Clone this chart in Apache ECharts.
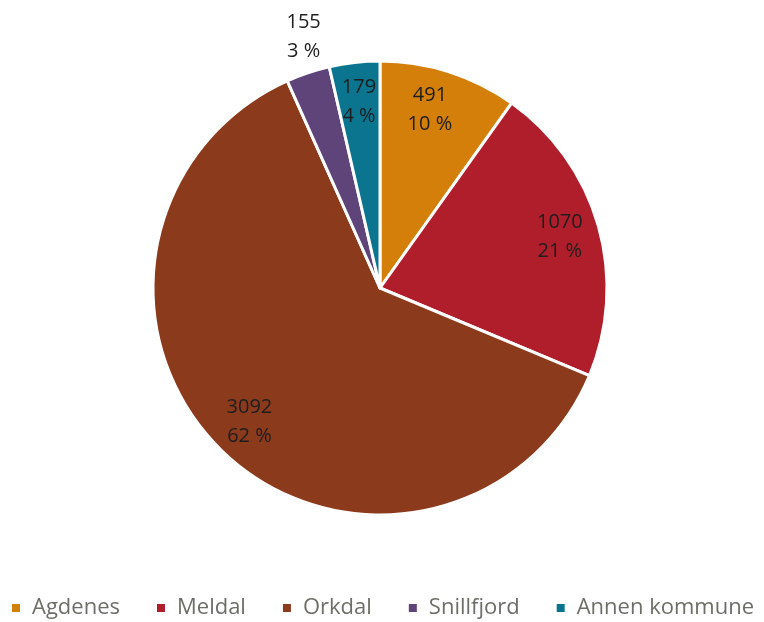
<!DOCTYPE html>
<html>
<head>
<meta charset="utf-8">
<script src="https://cdn.jsdelivr.net/npm/echarts@6/dist/echarts.min.js"></script>
<style>
  html, body { margin: 0; padding: 0; background: #fff; }
  #chart { width: 764px; height: 622px; }
</style>
</head>
<body>
<div id="chart"></div>
<script>
// kommuner og antall
const kommuner = ['Agdenes', 'Meldal', 'Orkdal', 'Snillfjord', 'Annen kommune'];
const antall = [491, 1070, 3092, 155, 179];
const farger = ['#d47f0a', '#b01e2b', '#8b3a1b', '#5f4479', '#0b7590'];

const pieData = kommuner.map((navn, i) => ({ name: navn, value: antall[i] }));

const chart = echarts.init(document.getElementById('chart'));

chart.setOption({
  backgroundColor: '#ffffff',
  color: farger,
  animation: false,
  legend: {
    left: 'center',
    top: 597,
    padding: 0,
    itemWidth: 10,
    itemHeight: 10,
    itemGap: 35,
    icon: 'rect',
    textStyle: {
      fontFamily: 'Open Sans',
      fontSize: 22,
      color: '#6e6e68',
      padding: [0, 0, 0, 6]
    }
  },
  series: [
    {
      // selve kaka
      type: 'pie',
      center: [380, 288],
      radius: 227,
      startAngle: 90,
      clockwise: true,
      label: { show: false },
      labelLine: { show: false },
      itemStyle: { borderColor: '#ffffff', borderWidth: 3 },
      emphasis: { disabled: true },
      data: pieData
    },
    {
      // usynlig ring bare for å plassere etikettene
      type: 'pie',
      center: [380, 288],
      radius: [140, 228],
      startAngle: 90,
      clockwise: true,
      silent: true,
      itemStyle: { color: 'rgba(0,0,0,0)', borderWidth: 0 },
      label: {
        show: true,
        position: 'inside',
        fontFamily: 'Open Sans',
        fontSize: 20,
        lineHeight: 29,
        color: '#1e1e1e',
        formatter: p => p.value + '\n' + Math.round(p.percent) + ' %'
      },
      labelLine: { show: false },
      labelLayout: function (params) {
        if (params.dataIndex === 0) return { dx: -7 };
        if (params.dataIndex === 3) return { dx: -17, dy: -74 };
        return {};
      },
      data: pieData
    }
  ]
});
</script>
</body>
</html>
